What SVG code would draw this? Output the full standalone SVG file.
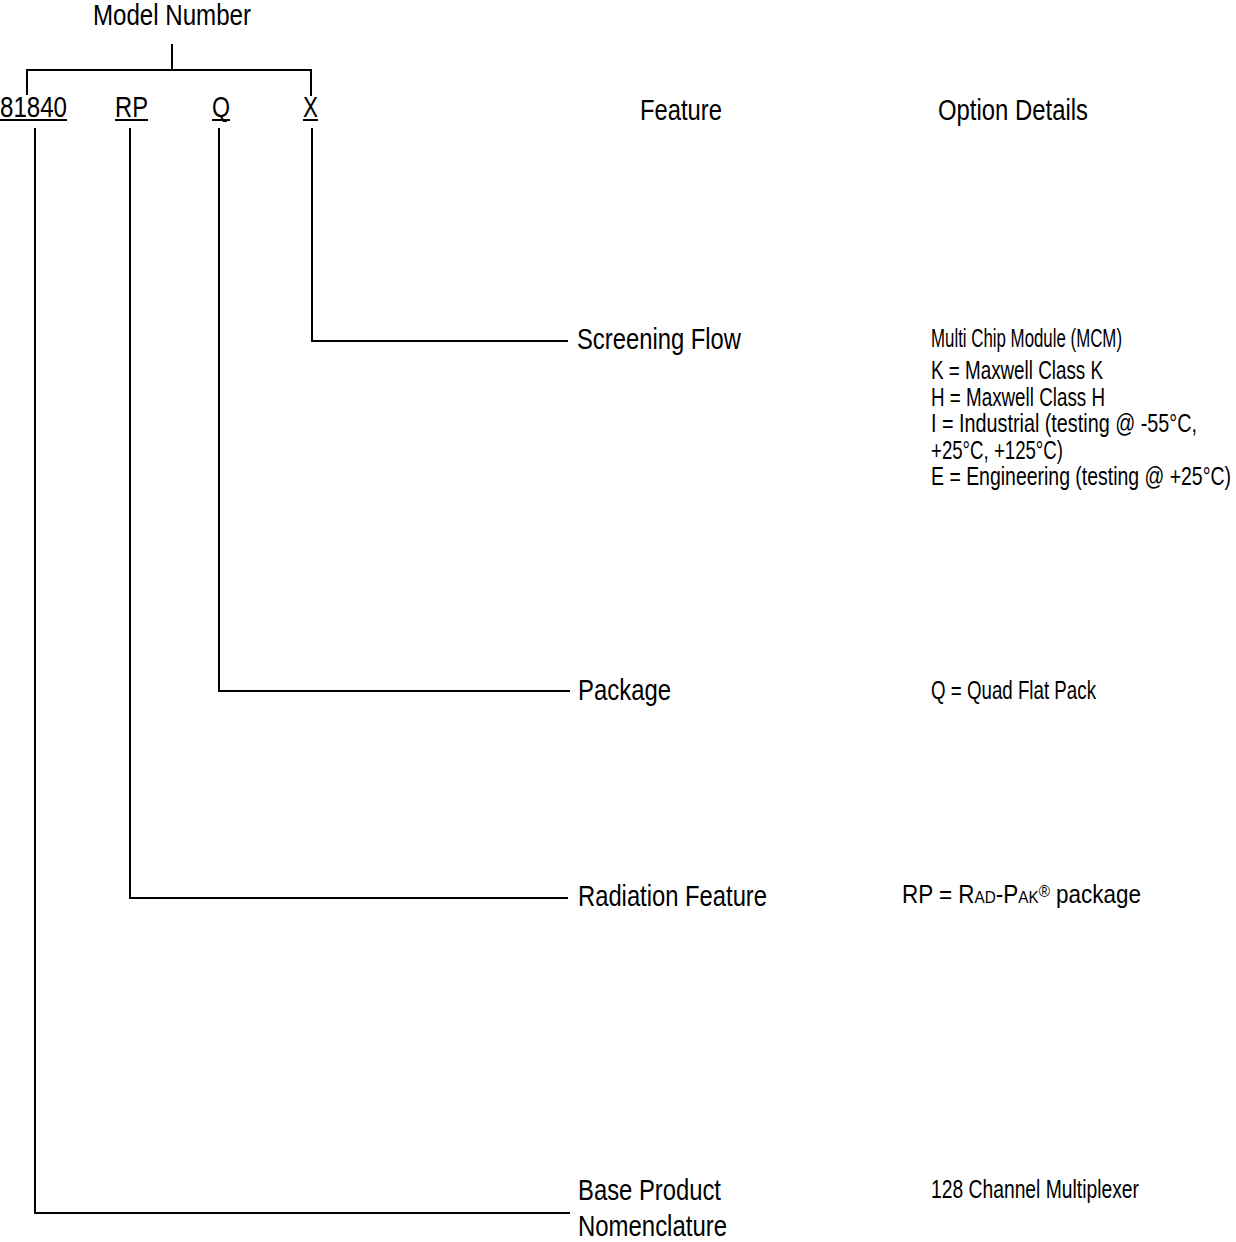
<svg xmlns="http://www.w3.org/2000/svg" width="1236" height="1242" viewBox="0 0 1236 1242">
<style>
text{font-family:"Liberation Sans Narrow","Arial Narrow","Liberation Sans",Arial,sans-serif;fill:#000}
.big{font-size:29px}
.opt{font-size:25px}
.sc{font-size:17px}
.ln{stroke:#000;stroke-width:2;fill:none}
</style>
<rect width="1236" height="1242" fill="#fff"/>
<g id="header">
<text class="big" x="93" y="25" textLength="158" lengthAdjust="spacingAndGlyphs">Model Number</text>
<text class="big" x="640" y="120" textLength="82" lengthAdjust="spacingAndGlyphs">Feature</text>
<text class="big" x="938" y="120" textLength="150" lengthAdjust="spacingAndGlyphs">Option Details</text>
</g>
<g id="model-fields">
<text class="big" x="0" y="117" textLength="67" lengthAdjust="spacingAndGlyphs">81840</text>
<text class="big" x="115" y="117" textLength="33" lengthAdjust="spacingAndGlyphs">RP</text>
<text class="big" x="212" y="117" textLength="18" lengthAdjust="spacingAndGlyphs">Q</text>
<text class="big" x="303" y="117" textLength="15" lengthAdjust="spacingAndGlyphs">X</text>
<line class="ln" x1="0" y1="120" x2="67" y2="120"/>
<line class="ln" x1="115" y1="120" x2="148" y2="120"/>
<line class="ln" x1="212" y1="120" x2="230" y2="120"/>
<line class="ln" x1="303" y1="120" x2="318" y2="120"/>
</g>
<g id="connectors">
<path class="ln" d="M172 44V70M27 95V70H311V96"/>
<path class="ln" d="M312 128V341H568"/>
<path class="ln" d="M219 128V691H570"/>
<path class="ln" d="M130 128V898H568"/>
<path class="ln" d="M35 128V1213H570"/>
</g>
<g id="screening">
<text class="big" x="577" y="349" textLength="164" lengthAdjust="spacingAndGlyphs">Screening Flow</text>
<text class="opt" x="931" y="347" textLength="191" lengthAdjust="spacingAndGlyphs">Multi Chip Module (MCM)</text>
<text class="opt" x="931" y="379" textLength="172" lengthAdjust="spacingAndGlyphs">K = Maxwell Class K</text>
<text class="opt" x="931" y="406" textLength="174" lengthAdjust="spacingAndGlyphs">H = Maxwell Class H</text>
<text class="opt" x="931" y="432" textLength="266" lengthAdjust="spacingAndGlyphs">I = Industrial (testing @ -55°C,</text>
<text class="opt" x="931" y="459" textLength="132" lengthAdjust="spacingAndGlyphs">+25°C, +125°C)</text>
<text class="opt" x="931" y="485" textLength="300" lengthAdjust="spacingAndGlyphs">E = Engineering (testing @ +25°C)</text>
</g>
<g id="package">
<text class="big" x="578" y="700" textLength="93" lengthAdjust="spacingAndGlyphs">Package</text>
<text class="opt" x="931" y="699" textLength="165" lengthAdjust="spacingAndGlyphs">Q = Quad Flat Pack</text>
</g>
<g id="radiation">
<text class="big" x="578" y="906" textLength="189" lengthAdjust="spacingAndGlyphs">Radiation Feature</text>
<text class="opt" x="902" y="903" textLength="239" lengthAdjust="spacingAndGlyphs">RP = R<tspan class="sc">AD</tspan>-P<tspan class="sc">AK</tspan><tspan class="sc" baseline-shift="6">®</tspan> package</text>
</g>
<g id="base">
<text class="big" x="578" y="1200" textLength="143" lengthAdjust="spacingAndGlyphs">Base Product</text>
<text class="big" x="578" y="1236" textLength="149" lengthAdjust="spacingAndGlyphs">Nomenclature</text>
<text class="opt" x="931" y="1198" textLength="208" lengthAdjust="spacingAndGlyphs">128 Channel Multiplexer</text>
</g>
</svg>
